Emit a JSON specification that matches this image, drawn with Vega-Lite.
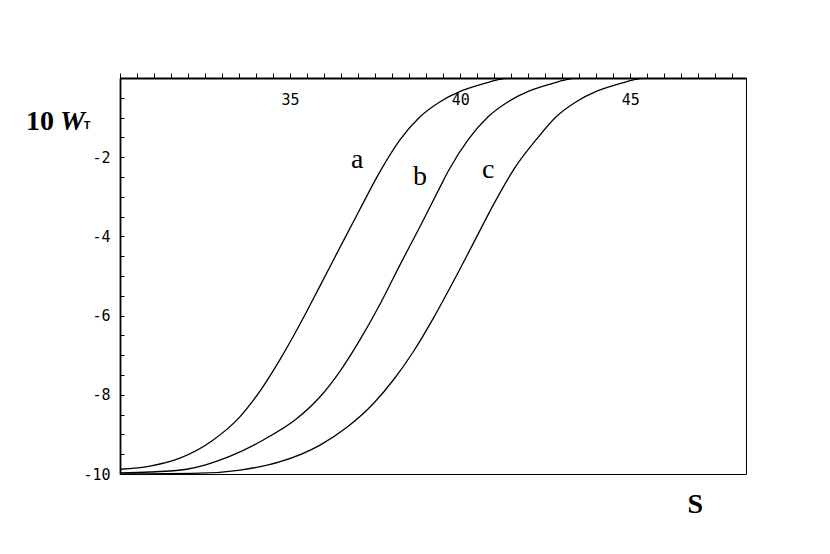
{
  "$schema": "https://vega.github.io/schema/vega-lite/v6.json",
  "width": 626,
  "height": 396,
  "autosize": {"type": "none"},
  "padding": {"left": 120, "top": 78, "right": 84, "bottom": 80},
  "background": "white",
  "config": {"view": {"stroke": "black", "strokeWidth": 1}},
  "datasets": {
    "curves": [
      {"curve": "a", "s": 30.00, "w": -9.88},
      {"curve": "a", "s": 30.88, "w": -9.80},
      {"curve": "a", "s": 31.76, "w": -9.60},
      {"curve": "a", "s": 32.74, "w": -9.14},
      {"curve": "a", "s": 33.53, "w": -8.55},
      {"curve": "a", "s": 34.12, "w": -7.90},
      {"curve": "a", "s": 34.71, "w": -7.10},
      {"curve": "a", "s": 35.30, "w": -6.20},
      {"curve": "a", "s": 35.88, "w": -5.25},
      {"curve": "a", "s": 36.47, "w": -4.27},
      {"curve": "a", "s": 37.06, "w": -3.30},
      {"curve": "a", "s": 37.65, "w": -2.35},
      {"curve": "a", "s": 38.24, "w": -1.55},
      {"curve": "a", "s": 38.82, "w": -0.98},
      {"curve": "a", "s": 39.41, "w": -0.60},
      {"curve": "a", "s": 40.00, "w": -0.34},
      {"curve": "a", "s": 40.59, "w": -0.17},
      {"curve": "a", "s": 41.03, "w": -0.06},
      {"curve": "a", "s": 41.40, "w": 0},
      {"curve": "a", "s": 41.85, "w": 0},
      {"curve": "b", "s": 30.00, "w": -9.97},
      {"curve": "b", "s": 30.88, "w": -9.95},
      {"curve": "b", "s": 31.96, "w": -9.88},
      {"curve": "b", "s": 33.24, "w": -9.55},
      {"curve": "b", "s": 34.21, "w": -9.14},
      {"curve": "b", "s": 35.20, "w": -8.60},
      {"curve": "b", "s": 35.88, "w": -8.05},
      {"curve": "b", "s": 36.47, "w": -7.40},
      {"curve": "b", "s": 37.06, "w": -6.60},
      {"curve": "b", "s": 37.65, "w": -5.70},
      {"curve": "b", "s": 38.24, "w": -4.70},
      {"curve": "b", "s": 38.82, "w": -3.75},
      {"curve": "b", "s": 39.41, "w": -2.75},
      {"curve": "b", "s": 39.65, "w": -2.35},
      {"curve": "b", "s": 40.24, "w": -1.55},
      {"curve": "b", "s": 40.82, "w": -0.98},
      {"curve": "b", "s": 41.41, "w": -0.60},
      {"curve": "b", "s": 42.00, "w": -0.34},
      {"curve": "b", "s": 42.59, "w": -0.17},
      {"curve": "b", "s": 43.03, "w": -0.06},
      {"curve": "b", "s": 43.38, "w": 0},
      {"curve": "b", "s": 43.62, "w": 0},
      {"curve": "c", "s": 30.00, "w": -10.0},
      {"curve": "c", "s": 32.35, "w": -9.98},
      {"curve": "c", "s": 33.53, "w": -9.90},
      {"curve": "c", "s": 34.71, "w": -9.69},
      {"curve": "c", "s": 35.88, "w": -9.27},
      {"curve": "c", "s": 36.67, "w": -8.82},
      {"curve": "c", "s": 37.45, "w": -8.22},
      {"curve": "c", "s": 38.04, "w": -7.62},
      {"curve": "c", "s": 38.63, "w": -6.90},
      {"curve": "c", "s": 39.22, "w": -6.05},
      {"curve": "c", "s": 39.81, "w": -5.12},
      {"curve": "c", "s": 40.40, "w": -4.15},
      {"curve": "c", "s": 40.99, "w": -3.18},
      {"curve": "c", "s": 41.58, "w": -2.30},
      {"curve": "c", "s": 42.24, "w": -1.55},
      {"curve": "c", "s": 42.82, "w": -0.98},
      {"curve": "c", "s": 43.41, "w": -0.60},
      {"curve": "c", "s": 44.00, "w": -0.34},
      {"curve": "c", "s": 44.59, "w": -0.17},
      {"curve": "c", "s": 45.03, "w": -0.06},
      {"curve": "c", "s": 45.40, "w": 0},
      {"curve": "c", "s": 45.65, "w": 0}
    ],
    "labels": [
      {"kind": "curve", "text": "a", "s": 36.97, "w": -2.07},
      {"kind": "curve", "text": "b", "s": 38.82, "w": -2.5},
      {"kind": "curve", "text": "c", "s": 40.82, "w": -2.32},
      {"kind": "num", "text": "10", "s": 27.65, "w": -1.11},
      {"kind": "W", "text": "W", "s": 28.60, "w": -1.11},
      {"kind": "T", "text": "T", "s": 29.03, "w": -1.22},
      {"kind": "S", "text": "S", "s": 46.91, "w": -10.78}
    ]
  },
  "encoding": {
    "x": {
      "field": "s", "type": "quantitative",
      "scale": {"domain": [30, 48.4], "nice": false, "zero": false},
      "axis": {
        "orient": "top", "title": null, "grid": false,
        "values": [30,30.5,31,31.5,32,32.5,33,33.5,34,34.5,35,35.5,36,36.5,37,37.5,38,38.5,39,39.5,40,40.5,41,41.5,42,42.5,43,43.5,44,44.5,45,45.5,46,46.5,47,47.5,48],
        "labelExpr": "datum.value % 5 == 0 && datum.value != 30 ? toString(datum.value) : ''",
        "labelOverlap": false, "labelFlush": false,
        "labelFont": "DejaVu Sans Mono", "labelFontSize": 15, "labelColor": "black",
        "labelBaseline": "middle", "labelPadding": -26,
        "tickColor": "black", "tickSize": 5, "tickWidth": 1,
        "domainColor": "black", "domainWidth": 1.8
      }
    },
    "y": {
      "field": "w", "type": "quantitative",
      "scale": {"domain": [-10, 0], "nice": false, "zero": false},
      "axis": {
        "orient": "left", "title": null, "grid": false,
        "values": [-10,-9.5,-9,-8.5,-8,-7.5,-7,-6.5,-6,-5.5,-5,-4.5,-4,-3.5,-3,-2.5,-2,-1.5,-1,-0.5,0],
        "labelExpr": "datum.value % 2 == 0 && datum.value != 0 ? toString(datum.value) : ''",
        "labelOverlap": false, "labelFlush": false,
        "labelFont": "DejaVu Sans Mono", "labelFontSize": 15, "labelColor": "black",
        "labelPadding": 14,
        "tickColor": "black", "tickSize": -4, "tickWidth": 1,
        "domainColor": "black", "domainWidth": 1.8
      }
    }
  },
  "layer": [
    {
      "data": {"name": "curves"},
      "mark": {"type": "line", "color": "black", "strokeWidth": 1.3, "clip": true, "interpolate": "monotone"},
      "encoding": {
        "detail": {"field": "curve"}
      }
    },
    {
      "data": {"name": "labels"},
      "transform": [{"filter": "datum.kind == 'curve'"}],
      "mark": {"type": "text", "font": "Liberation Serif", "fontSize": 28, "color": "black", "baseline": "middle", "align": "center"},
      "encoding": {"text": {"field": "text"}}
    },
    {
      "data": {"name": "labels"},
      "transform": [{"filter": "datum.kind == 'num' || datum.kind == 'S'"}],
      "mark": {"type": "text", "font": "Liberation Serif", "fontSize": 28, "fontWeight": "bold", "color": "black", "baseline": "middle", "align": "center"},
      "encoding": {"text": {"field": "text"}}
    },
    {
      "data": {"name": "labels"},
      "transform": [{"filter": "datum.kind == 'W'"}],
      "mark": {"type": "text", "font": "Liberation Serif", "fontSize": 28, "fontWeight": "bold", "fontStyle": "italic", "color": "black", "baseline": "middle", "align": "center"},
      "encoding": {"text": {"field": "text"}}
    },
    {
      "data": {"name": "labels"},
      "transform": [{"filter": "datum.kind == 'T'"}],
      "mark": {"type": "text", "font": "Liberation Sans", "fontSize": 11, "fontWeight": "bold", "color": "black", "baseline": "middle", "align": "center"},
      "encoding": {"text": {"field": "text"}}
    }
  ]
}
